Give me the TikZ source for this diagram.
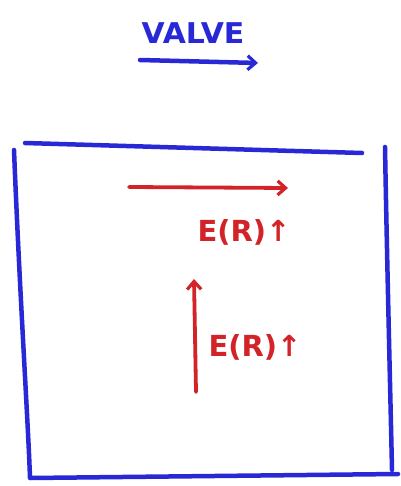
\documentclass[tikz,border=0pt]{standalone}
\usepackage{fontspec}
\setmainfont{DejaVu Sans}
\usetikzlibrary{arrows.meta}
\definecolor{penblue}{RGB}{40,40,215}
\definecolor{penred}{RGB}{210,35,40}
\tikzset{
  blueline/.style={draw=penblue, line width=4.5pt, line cap=round, line join=round},
  redline/.style={draw=penred, line width=3.8pt, line cap=round},
  handarrow/.style={-{Straight Barb[length=8pt,width=14pt,line width=3.2pt]}},
  bluetext/.style={text=penblue, font=\bfseries\fontsize{26}{26}\selectfont, inner sep=0pt, xscale=1.15, yscale=1.1},
  redtext/.style={text=penred, font=\bfseries\fontsize{29}{29}\selectfont, inner sep=0pt},
}
\begin{document}
\begin{tikzpicture}[x=1pt,y=-1pt]
\useasboundingbox (0,0) rectangle (400,486);
% title
\node[bluetext] (title) at (193,33) {VALVE};
\coordinate (va) at (140,60);
\coordinate (vb) at (258,63);
\draw[blueline, handarrow] (va) -- (vb);
% box
\coordinate (tl) at (25,143);
\coordinate (tr) at (362,153);
\coordinate (lt) at (14,150);
\coordinate (lb) at (30,478);
\coordinate (br) at (398,474);
\coordinate (rt) at (385,147);
\coordinate (rb) at (392,470);
\draw[blueline] (tl) -- (tr);
\draw[blueline] (lt) .. controls (20,300) and (28,420) .. (lb) -- (br);
\draw[blueline] (rt) .. controls (387,260) and (390,380) .. (rb);
% red arrows
\coordinate (ha) at (129,187);
\coordinate (hb) at (288,188);
\draw[redline, handarrow] (ha) -- (hb);
\node[redtext] (e1) at (244,232) {E(R)↑};
\coordinate (ua) at (196,392);
\coordinate (ub) at (194,279);
\draw[redline, handarrow] (ua) -- (ub);
\node[redtext] (e2) at (255,347) {E(R)↑};
\end{tikzpicture}
\end{document}
